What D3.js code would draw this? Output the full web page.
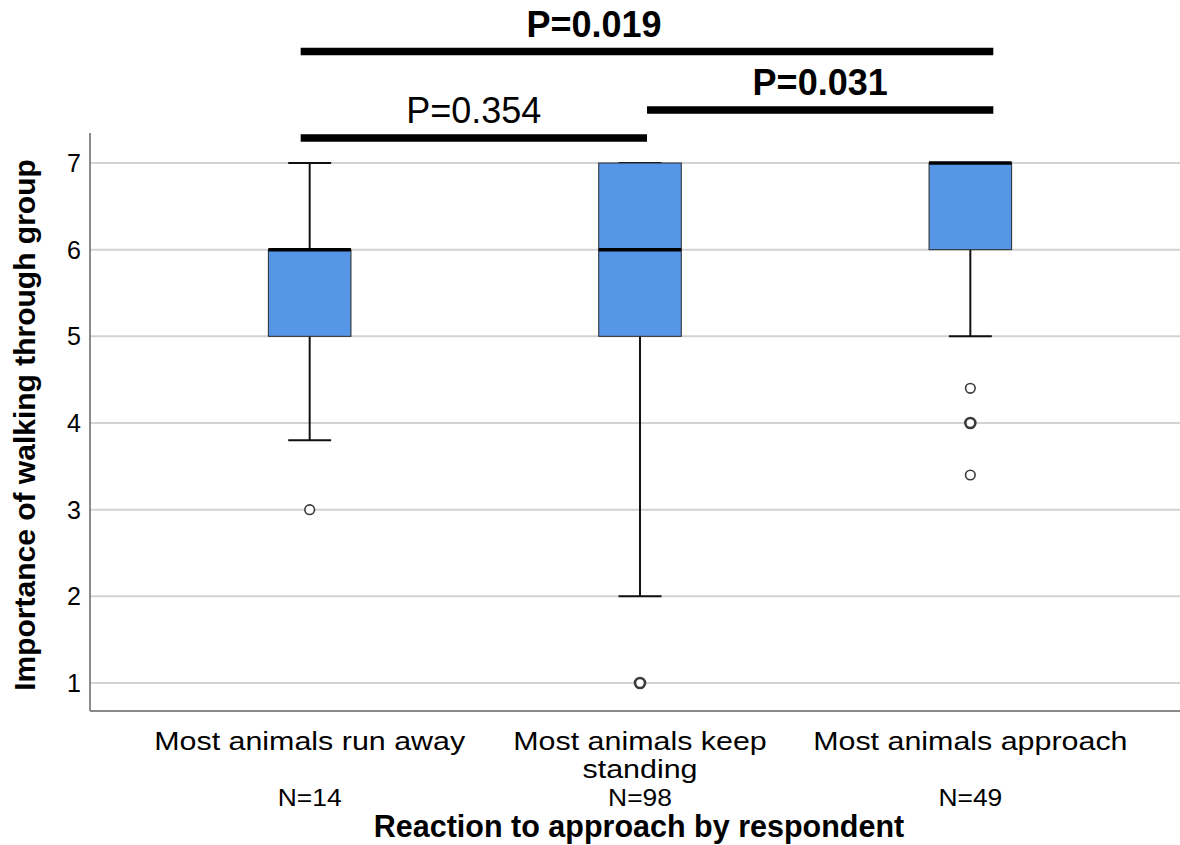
<!DOCTYPE html>
<html>
<head>
<meta charset="utf-8">
<script src="https://cdn.jsdelivr.net/npm/d3@7"></script>
<style>
  body { margin: 0; background: #fff; }
  svg { display: block; font-family: 'Liberation Sans', Arial, sans-serif; }
  .grid line { stroke: #d2d2d2; stroke-width: 2px; }
  .box { fill: #5596e6; stroke: #2b2b2b; stroke-width: 1px; }
  .median { stroke: #000; stroke-width: 3.5px; }
  .whisker { stroke: #111; stroke-width: 2px; }
  .outlier { fill: #fff; stroke: #3a3a3a; }
  .sig { fill: #000; }
</style>
</head>
<body>
<div id="chart"></div>
<script>
// groups and box statistics
const categories = ["Most animals run away", "Most animals keep standing", "Most animals approach"];
const categoryLines = [["Most animals run away"], ["Most animals keep", "standing"], ["Most animals approach"]];
const counts = ["N=14", "N=98", "N=49"];
const lowWhisker = [3.8, 2, 5];
const q1 = [5, 5, 6];
const median = [6, 6, 7];
const q3 = [6, 7, 7];
const highWhisker = [7, 7, 7];
const outliers = [[3], [1, 1], [4.4, 4, 4, 3.4]];
const yTicks = [1, 2, 3, 4, 5, 6, 7];

// pairwise comparisons
const compFrom = [0, 0, 1];
const compTo = [2, 1, 2];
const compLabel = ["P=0.019", "P=0.354", "P=0.031"];
const compBold = [true, false, true];

const yTitle = "Importance of walking through group";
const xTitle = "Reaction to approach by respondent";

const width = 1180, height = 845;
const margin = { top: 133, right: 0, bottom: 134, left: 90 };

const svg = d3.select("#chart").append("svg")
  .attr("width", width)
  .attr("height", height);

const x = d3.scalePoint()
  .domain(d3.range(categories.length))
  .range([margin.left, 1190])
  .padding(0.665);

const y = d3.scaleLinear()
  .domain([1, 7])
  .range([683, 163]);

const plotBottom = height - margin.bottom;
const boxW = x.step() * 0.25;
const capW = boxW * 0.52;

// gridlines
svg.append("g").attr("class", "grid")
  .selectAll("line").data(yTicks).join("line")
  .attr("x1", margin.left).attr("x2", width)
  .attr("y1", d => y(d)).attr("y2", d => y(d));

// axes lines
svg.append("line")
  .attr("x1", margin.left).attr("x2", margin.left)
  .attr("y1", margin.top).attr("y2", plotBottom)
  .attr("stroke", "#666").attr("stroke-width", 1.5);
svg.append("line")
  .attr("x1", margin.left).attr("x2", width)
  .attr("y1", plotBottom).attr("y2", plotBottom)
  .attr("stroke", "#8a8a8a").attr("stroke-width", 2);

// y tick labels
svg.append("g")
  .selectAll("text").data(yTicks).join("text")
  .attr("x", 81).attr("y", d => y(d) + 9)
  .attr("text-anchor", "end")
  .attr("font-size", 25)
  .text(d => d);

// y title
svg.append("text")
  .attr("transform", `translate(35,${(y(1) + y(7)) / 2 + 2}) rotate(-90)`)
  .attr("text-anchor", "middle")
  .attr("font-size", 30)
  .attr("font-weight", "bold")
  .text(yTitle);

const idx = d3.range(categories.length);
const g = svg.append("g");

// whiskers
g.selectAll(".stem-lo").data(idx).join("line")
  .attr("class", "whisker")
  .attr("x1", i => x(i)).attr("x2", i => x(i))
  .attr("y1", i => y(lowWhisker[i])).attr("y2", i => y(q1[i]));
g.selectAll(".stem-hi").data(idx).join("line")
  .attr("class", "whisker")
  .attr("x1", i => x(i)).attr("x2", i => x(i))
  .attr("y1", i => y(highWhisker[i])).attr("y2", i => y(q3[i]));
g.selectAll(".cap-lo").data(idx).join("line")
  .attr("class", "whisker")
  .attr("x1", i => x(i) - capW / 2).attr("x2", i => x(i) + capW / 2)
  .attr("y1", i => y(lowWhisker[i])).attr("y2", i => y(lowWhisker[i]));
g.selectAll(".cap-hi").data(idx).join("line")
  .attr("class", "whisker")
  .attr("x1", i => x(i) - capW / 2).attr("x2", i => x(i) + capW / 2)
  .attr("y1", i => y(highWhisker[i])).attr("y2", i => y(highWhisker[i]));

// boxes
g.selectAll("rect.box").data(idx).join("rect")
  .attr("class", "box")
  .attr("x", i => x(i) - boxW / 2)
  .attr("width", boxW)
  .attr("y", i => y(q3[i]))
  .attr("height", i => y(q1[i]) - y(q3[i]));

g.selectAll(".median").data(idx).join("line")
  .attr("class", "median")
  .attr("x1", i => x(i) - boxW / 2).attr("x2", i => x(i) + boxW / 2)
  .attr("y1", i => y(median[i])).attr("y2", i => y(median[i]));

// outliers: repeated values draw with a heavier ring, like overplotting
const outPts = idx.flatMap(i =>
  d3.rollups(outliers[i], v => v.length, v => v).map(([v, n]) => ({ i, v, n })));
g.selectAll(".outlier").data(outPts).join("circle")
  .attr("class", "outlier")
  .attr("cx", d => x(d.i)).attr("cy", d => y(d.v))
  .attr("r", d => d.n > 1 ? 5 : 4.8)
  .attr("stroke", d => d.n > 1 ? "#111" : "#444")
  .attr("stroke-width", d => d.n > 1 ? 2.6 : 1.6);

// category labels
const catG = svg.append("g");
idx.forEach(i => {
  categoryLines[i].forEach((line, k) => {
    catG.append("text")
      .attr("transform", `translate(${x(i)},${750 + k * 28}) scale(1.17,1)`)
      .attr("text-anchor", "middle")
      .attr("font-size", 26)
      .text(line);
  });
  catG.append("text")
    .attr("transform", `translate(${x(i)},806) scale(1.1,1)`)
    .attr("text-anchor", "middle")
    .attr("font-size", 24)
    .text(counts[i]);
});

// x title
svg.append("text")
  .attr("x", 639).attr("y", 837)
  .attr("text-anchor", "middle")
  .attr("font-size", 30.5)
  .attr("font-weight", "bold")
  .text(xTitle);

// significance bars
const bx = d3.scaleLinear().domain([0, 2]).range([x(0) - 9, x(2) + 23]);
const barY = [51.5, 138, 110];
const labelDx = [-53, 0, 0];
const sigG = svg.append("g");
compLabel.forEach((lab, k) => {
  const x0 = bx(compFrom[k]), x1 = bx(compTo[k]);
  sigG.append("rect")
    .attr("class", "sig")
    .attr("x", x0).attr("width", x1 - x0)
    .attr("y", barY[k] - 3.75).attr("height", 7.5);
  sigG.append("text")
    .attr("x", (x0 + x1) / 2 + labelDx[k])
    .attr("y", barY[k] - 15)
    .attr("text-anchor", "middle")
    .attr("font-size", 36)
    .attr("font-weight", compBold[k] ? "bold" : "normal")
    .text(lab);
});
</script>
</body>
</html>
